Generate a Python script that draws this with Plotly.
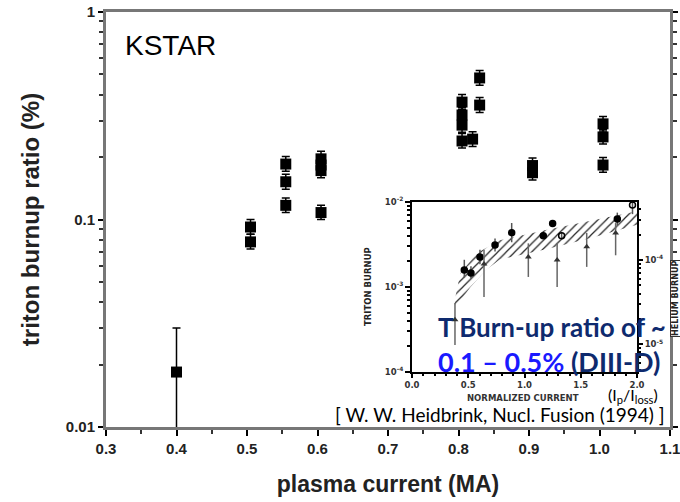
import plotly.graph_objects as go

# ---------------- main KSTAR data ----------------
ip_ma = [0.40, 0.505, 0.505, 0.555, 0.555, 0.555, 0.605, 0.605, 0.605, 0.605,
         0.805, 0.805, 0.805, 0.805, 0.82, 0.83, 0.83, 0.905, 0.905, 1.005, 1.005, 1.005]
burnup = [0.0184, 0.092, 0.078, 0.185, 0.152, 0.117, 0.196, 0.183, 0.172, 0.108,
          0.368, 0.319, 0.285, 0.239, 0.244, 0.481, 0.356, 0.182, 0.168, 0.289, 0.250, 0.183]
err_hi = [0.0116, 0.008, 0.007, 0.016, 0.013, 0.010, 0.017, 0.016, 0.015, 0.009,
          0.032, 0.028, 0.025, 0.021, 0.021, 0.042, 0.031, 0.016, 0.015, 0.025, 0.022, 0.016]
err_lo = [0.0089, 0.007, 0.006, 0.014, 0.012, 0.009, 0.015, 0.014, 0.013, 0.008,
          0.028, 0.025, 0.022, 0.018, 0.019, 0.037, 0.028, 0.014, 0.013, 0.022, 0.019, 0.014]

x_ticks = [0.3, 0.4, 0.5, 0.6, 0.7, 0.8, 0.9, 1.0, 1.1]
y_tickvals = [0.01, 0.1, 1]
y_ticktext = ["0.01", "0.1", "1"]

# ---------------- inset DIII-D data ----------------
tri_x = [0.465, 0.524, 0.604, 0.738, 0.886, 1.167, 1.25, 1.33, 1.825, 1.96]
tri_y = [1.59e-3, 1.46e-3, 2.25e-3, 3.12e-3, 4.36e-3, 4.02e-3, 5.6e-3, 4.0e-3, 6.3e-3, 9.2e-3]
tri_hi = [0.5e-3, 0.3e-3, 0.5e-3, 0.6e-3, 1.3e-3, 0.4e-3, 0.5e-3, 0.4e-3, 1.2e-3, 2.4e-3]
tri_lo = [0.3e-3, 0.2e-3, 0.4e-3, 0.5e-3, 1.0e-3, 0.3e-3, 0.4e-3, 0.3e-3, 1.0e-3, 2.0e-3]
tri_sym = ["circle", "circle", "circle", "circle", "circle", "circle", "circle",
           "circle-open", "circle", "circle-open"]

he_x = [0.382, 0.64, 1.034, 1.29, 1.553, 1.81]
he_y = [1.95e-5, 8.95e-5, 1.09e-4, 1.0e-4, 1.44e-4, 2.1e-4]
he_hi = [1.15e-5, 4.2e-5, 4.9e-5, 5.8e-5, 6.6e-5, 6.5e-5]
he_lo = [0.97e-5, 5.3e-5, 4.6e-5, 5.2e-5, 6.1e-5, 9.6e-5]

band_x = [0.38, 0.43, 0.575, 0.78, 1.2, 1.6, 2.0]
band_upper = [7.1e-4, 1.45e-3, 2.5e-3, 3.55e-3, 4.7e-3, 6.0e-3, 7.8e-3]
band_lx = [0.38, 0.52, 0.66, 0.78, 1.2, 1.6, 2.0]
band_lower = [5.6e-4, 1.0e-3, 1.6e-3, 2.1e-3, 2.8e-3, 3.8e-3, 5.4e-3]

inset_xticks = [0.0, 0.5, 1.0, 1.5, 2.0]

W, H = 680, 502
L, R, T, B = 106, 10, 12, 75
PW, PH = W - L - R, H - T - B


def px(xp):
    return (xp - L) / PW


def py(yp):
    return (H - B - yp) / PH


fig = go.Figure()

# main data
fig.add_trace(go.Scatter(
    x=ip_ma, y=burnup, mode="markers",
    marker=dict(symbol="square", size=11, color="black"),
    error_y=dict(type="data", symmetric=False, array=err_hi, arrayminus=err_lo,
                 color="black", thickness=1.5, width=4),
    xaxis="x", yaxis="y", showlegend=False))

# white cover for inset (subplot x2y2)
fig.add_trace(go.Scatter(x=[None], y=[None], xaxis="x2", yaxis="y2",
                         showlegend=False, hoverinfo="skip"))

# inset band
fig.add_trace(go.Scatter(
    x=band_x + band_lx[::-1], y=band_upper + band_lower[::-1],
    fill="toself", mode="lines", line=dict(width=0, color="rgba(0,0,0,0)"),
    fillcolor="white",
    fillpattern=dict(shape="/", fgcolor="#222", bgcolor="white", size=6, solidity=0.2),
    xaxis="x3", yaxis="y3", showlegend=False, hoverinfo="skip"))

fig.add_trace(go.Scatter(
    x=tri_x, y=tri_y, mode="markers",
    marker=dict(symbol=tri_sym, size=6, color="black", line=dict(color="black", width=1.5)),
    error_y=dict(type="data", symmetric=False, array=tri_hi, arrayminus=tri_lo,
                 color="#555", thickness=1.5, width=0),
    xaxis="x3", yaxis="y3", showlegend=False))

fig.add_trace(go.Scatter(
    x=he_x, y=he_y, mode="markers",
    marker=dict(symbol="triangle-up", size=6, color="#333"),
    error_y=dict(type="data", symmetric=False, array=he_hi, arrayminus=he_lo,
                 color="#666", thickness=1.5, width=0),
    xaxis="x3", yaxis="y4", showlegend=False))

tickfont_main = dict(family="Liberation Sans", size=15, color="#222", weight="bold")
inset_font = dict(family="DejaVu Sans", size=8.5, color="#333", weight="bold")

inset_x0, inset_x1 = px(412), px(637)
inset_y0, inset_y1 = py(372), py(202)

minor_y = [k * 10 ** e for e in (-2, -1) for k in range(2, 10)]

fig.update_layout(
    template="none",
    width=W, height=H,
    margin=dict(l=L, r=R, t=T, b=B, autoexpand=False),
    paper_bgcolor="white", plot_bgcolor="white",
    font=dict(family="Liberation Sans", color="#222"),
    xaxis=dict(domain=[0, 1], range=[0.3, 1.1], tickvals=x_ticks, automargin=False,
               ticklabeloverflow="allow",
               tickformat=".1f", ticks="outside", ticklen=6, tickwidth=2, tickcolor="black",
               minor=dict(dtick=0.05, tick0=0.3, ticks="outside", ticklen=4, tickwidth=1.5,
                          tickcolor="#333"),
               showline=True, linecolor="#777", linewidth=3, mirror=True,
               showgrid=False, zeroline=False, tickfont=tickfont_main,
               title=dict(text="plasma current (MA)", standoff=20,
                          font=dict(family="Liberation Sans", size=23, color="#222",
                                    weight="bold"))),
    yaxis=dict(domain=[0, 1], type="log", range=[-2, 0], tickvals=y_tickvals,
               ticktext=y_ticktext, ticks="outside", ticklen=5, tickwidth=2,
               tickcolor="black", automargin=False, ticklabeloverflow="allow",
               minor=dict(tickvals=minor_y, ticks="outside", ticklen=4, tickwidth=1.5,
                          tickcolor="#333"),
               showline=True, linecolor="#777", linewidth=3, mirror="ticks",
               showgrid=False, zeroline=False, tickfont=tickfont_main,
               title=dict(text="triton burnup ratio (%)", standoff=20,
                          font=dict(family="Liberation Sans", size=24, color="#222",
                                    weight="bold"))),
    xaxis2=dict(domain=[px(362), px(667)], range=[0, 1], visible=False, anchor="y2",
                automargin=False),
    yaxis2=dict(domain=[py(421), py(193)], range=[0, 1], visible=False, anchor="x2",
                automargin=False),
    xaxis3=dict(domain=[inset_x0, inset_x1], range=[0, 2.0], anchor="y3", automargin=False,
                tickvals=inset_xticks, tickformat=".1f", ticks="outside", ticklen=4,
                tickwidth=1.5, tickcolor="black",
                minor=dict(dtick=0.1, ticks="outside", ticklen=2, tickcolor="black"),
                showline=True, linecolor="black", linewidth=2, mirror=True,
                showgrid=False, zeroline=False, tickfont=inset_font),
    yaxis3=dict(domain=[inset_y0, inset_y1], type="log", range=[-4, -2], anchor="x3",
                automargin=False,
                tickvals=[1e-4, 1e-3, 1e-2],
                ticktext=["10<sup>-4</sup>", "10<sup>-3</sup>", "10<sup>-2</sup>"],
                ticks="outside", ticklen=5, tickwidth=1.5, tickcolor="black",
                minor=dict(ticks="outside", ticklen=3, tickcolor="black",
                           tickvals=[k * 10 ** e for e in (-4, -3) for k in range(2, 10)]),
                showline=True, linecolor="black", linewidth=2, mirror=True,
                showgrid=False, zeroline=False, tickfont=inset_font),
    yaxis4=dict(type="log", range=[-5.33, -3.31], overlaying="y3", side="right",
                anchor="x3", automargin=False, tickvals=[1e-5, 1e-4],
                ticktext=["10<sup>-5</sup>", "10<sup>-4</sup>"],
                ticks="outside", ticklen=5, tickwidth=1.5, tickcolor="black",
                minor=dict(ticks="outside", ticklen=3, tickcolor="black",
                           tickvals=[k * 10 ** e for e in (-6, -5, -4) for k in range(2, 10)]),
                showline=False, showgrid=False, zeroline=False, tickfont=inset_font),
)


def note(xp, yp, text, font, xanchor="center", **kw):
    return dict(x=px(xp), y=py(yp), xref="paper", yref="paper", text=text,
                showarrow=False, xanchor=xanchor, yanchor="middle", font=font, **kw)


ann = [
    note(123, 45, "KSTAR", dict(family="Liberation Sans", size=28, color="black"),
         xanchor="left"),
    note(368, 287, "TRITON BURNUP",
         dict(family="DejaVu Sans", size=8.5, color="#222", weight="bold"), textangle=-90),
    note(675, 299, "HELIUM BURNUP",
         dict(family="DejaVu Sans", size=8, color="#222", weight="bold"), textangle=-90,
         bgcolor="white", bordercolor="#333", borderwidth=1, borderpad=0),
    note(523, 398, "NORMALIZED CURRENT",
         dict(family="DejaVu Sans", size=8.5, color="#333", weight="bold")),
    note(633, 395, "(I<sub>p</sub>/I<sub>loss</sub>)",
         dict(family="Lato", size=16, color="black")),
    note(667, 414, "[ W. W. Heidbrink, Nucl. Fusion (1994) ]",
         dict(family="Lato", size=19, color="black"), xanchor="right"),
    note(436, 327, "T Burn-up ratio of ~",
         dict(family="Lato", size=26, color="#0e2a6e", weight="bold"), xanchor="left"),
    note(436, 361, "<span style='color:#1a1aff'>0.1 – 0.5%</span> (DIII-D)",
         dict(family="Lato", size=27, color="#0e2a6e", weight="bold"), xanchor="left"),
]
fig.update_layout(annotations=ann)

fig.write_html("out.html")
